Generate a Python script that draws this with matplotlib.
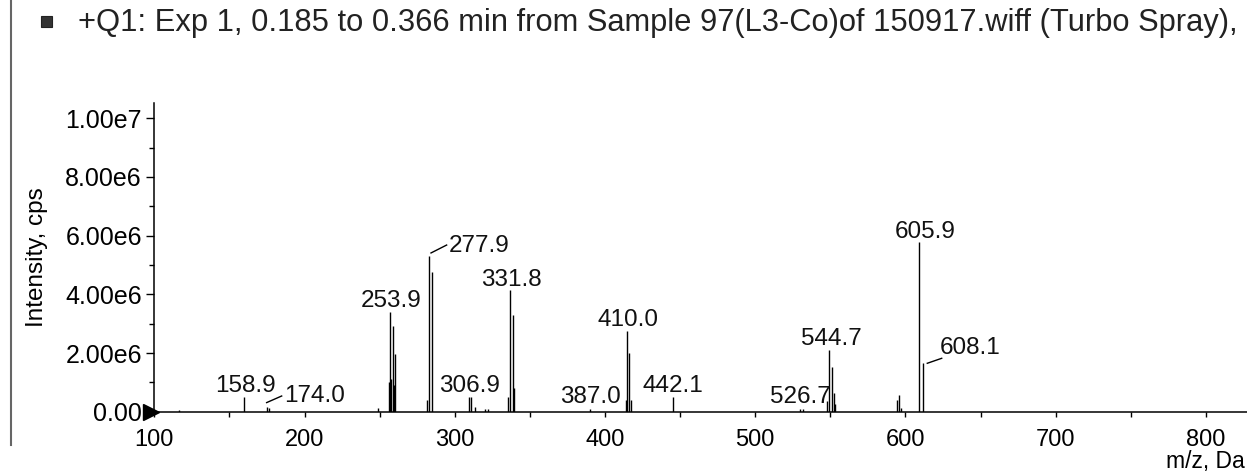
import matplotlib
matplotlib.use("Agg")
import matplotlib.pyplot as plt
import matplotlib.transforms as mtransforms
from matplotlib.ticker import MultipleLocator, FuncFormatter
from matplotlib.patches import Rectangle
from matplotlib.lines import Line2D

# ------------------- DATA ------------------- #
mz = [116.4, 159.7, 174.8, 176.3, 248.7,
      256.2, 256.9, 257.9, 258.7, 259.5, 260.4,
      281.5, 282.7, 284.8,
      309.7, 311.0, 313.5, 320.2, 322.2,
      335.5, 336.8, 338.5, 339.4,
      390.0, 414.0, 414.8, 416.2, 417.1, 445.5,
      529.8, 531.6, 547.5, 549.3, 551.3, 552.4, 553.0,
      594.1, 595.9, 596.8, 609.2, 611.4]
intensity = [0.05e6, 0.51e6, 0.15e6, 0.12e6, 0.12e6,
             1.00e6, 3.41e6, 1.10e6, 2.92e6, 0.90e6, 1.97e6,
             0.40e6, 5.31e6, 4.77e6,
             0.51e6, 0.50e6, 0.15e6, 0.10e6, 0.08e6,
             0.50e6, 4.15e6, 3.30e6, 0.80e6,
             0.10e6, 0.40e6, 2.75e6, 2.00e6, 0.40e6, 0.51e6,
             0.10e6, 0.10e6, 0.35e6, 2.10e6, 1.53e6, 0.63e6, 0.25e6,
             0.40e6, 0.57e6, 0.13e6, 5.79e6, 1.65e6]

label_text = ["158.9", "174.0", "253.9", "277.9", "306.9", "331.8", "387.0",
              "410.0", "442.1", "526.7", "544.7", "605.9", "608.1"]

# ------------------- LABEL PLACEMENT ------------------- #
label_x = [160.4, 207.0, 257.9, 316.1, 310.1, 337.4, 390.3,
           415.0, 445.2, 529.8, 550.4, 612.9, 642.9]
label_y = [0.67e6, 0.34e6, 3.57e6, 5.44e6, 0.67e6, 4.28e6, 0.30e6,
           2.92e6, 0.67e6, 0.30e6, 2.27e6, 5.92e6, 1.97e6]
leaders = [((174.8, 0.31e6), (184.8, 0.535e6)),
           ((284.2, 5.41e6), (294.6, 5.68e6)),
           ((614.5, 1.65e6), (624.1, 1.82e6))]

FONT = ["Liberation Sans", "DejaVu Sans"]
plt.rcParams["font.family"] = FONT

fig = plt.figure(figsize=(12.47, 4.73), dpi=100)
ax = fig.add_axes([0.1237, 0.1296, 0.8763, 0.6526])

ax.vlines(mz, 0, intensity, color="black", linewidth=1.0)

for t, x, y in zip(label_text, label_x, label_y):
    ax.text(x, y, t, ha="center", va="baseline", fontsize=17.5, color="#111111")
for (x0, y0), (x1, y1) in leaders:
    ax.plot([x0, x1], [y0, y1], color="black", linewidth=1.0)

ax.set_xlim(100, 827.3)
ax.set_ylim(0, 1.052e7)

for s in ["top", "right"]:
    ax.spines[s].set_visible(False)
ax.spines["left"].set_linewidth(1.1)
ax.spines["bottom"].set_linewidth(1.1)

ax.xaxis.set_major_locator(MultipleLocator(100))
ax.xaxis.set_minor_locator(MultipleLocator(50))
ax.yaxis.set_major_locator(MultipleLocator(2e6))
ax.yaxis.set_minor_locator(MultipleLocator(1e6))


def yfmt(v, pos):
    if v == 0:
        return "0.00"
    exp = len(str(int(round(v)))) - 1
    return f"{v / 10 ** exp:.2f}e{exp}"


ax.yaxis.set_major_formatter(FuncFormatter(yfmt))
ax.tick_params(axis="x", which="both", length=3.5, width=1, direction="out", labelsize=17, pad=9)
ax.tick_params(axis="y", which="major", length=6, width=1, labelsize=18, pad=3)
ax.tick_params(axis="y", which="minor", length=3.5, width=1)

ax.set_ylabel("Intensity, cps", fontsize=17.5, labelpad=12)

# black arrow at the origin
off = mtransforms.offset_copy(ax.transData, fig=fig, x=-3.5, y=0, units="dots")
ax.plot([100], [0], marker=">", markersize=11, color="black", clip_on=False, transform=off)

fig.text(1245 / 1247, 1 - 468 / 473, "m/z, Da", ha="right", va="baseline", fontsize=16.5)

# header line (the scan cuts it off at the right edge)
fig.text(78 / 1247, 1 - 31 / 473,
         "+Q1: Exp 1, 0.185 to 0.366 min from Sample 97(L3-Co)of 150917.wiff (Turbo Spray),",
         ha="left", va="baseline", fontsize=22.2, color="#222222")
fig.patches.append(Rectangle((41 / 1247, 1 - 27 / 473), 11 / 1247, 11 / 473,
                             transform=fig.transFigure, facecolor="#333333",
                             edgecolor="#222222", linewidth=0.8))
fig.lines.append(Line2D([11 / 1247, 11 / 1247], [0.06, 1.0], transform=fig.transFigure,
                        color="#666666", linewidth=1.5))

fig.savefig("out.png", dpi=100)
